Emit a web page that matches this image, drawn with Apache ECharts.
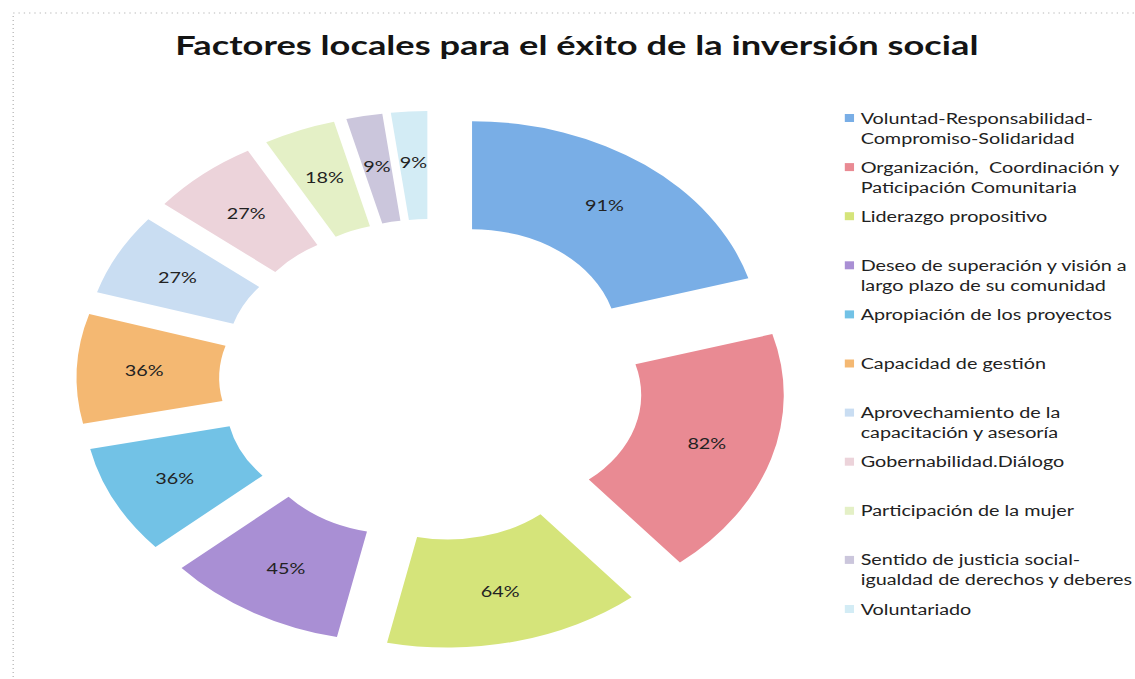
<!DOCTYPE html>
<html>
<head>
<meta charset="utf-8">
<script src="https://cdn.jsdelivr.net/npm/echarts@6/dist/echarts.min.js"></script>
<style>
html,body{margin:0;padding:0;width:1135px;height:679px;overflow:hidden;background:#ffffff;}
#chart{width:860px;height:679px;transform:scaleX(1.32);transform-origin:0 0;}
</style>
</head>
<body>
<div id="chart"></div>
<script>
const titleText = 'Factores locales para el éxito de la inversión social';
const categories = [
  'Voluntad-Responsabilidad-\nCompromiso-Solidaridad',
  'Organización,  Coordinación y\nPaticipación Comunitaria',
  'Liderazgo propositivo',
  'Deseo de superación y visión a\nlargo plazo de su comunidad',
  'Apropiación de los proyectos',
  'Capacidad de gestión',
  'Aprovechamiento de la\ncapacitación y asesoría',
  'Gobernabilidad.Diálogo',
  'Participación de la mujer',
  'Sentido de justicia social-\nigualdad de derechos y deberes',
  'Voluntariado'
];
const values = [91, 82, 64, 45, 36, 36, 27, 27, 18, 9, 9];
const colors = ['#79aee6', '#e98a93', '#d5e47a', '#a98fd4', '#72c2e6', '#f4b872',
                '#c9ddf2', '#ecd3da', '#e4f0c6', '#cbc6dc', '#d3ecf5'];

const chart = echarts.init(document.getElementById('chart'), null, {renderer: 'svg'});
chart.setOption({
  backgroundColor: '#ffffff',
  animation: false,
  title: {
    text: titleText,
    left: 432,
    top: 25,
    textAlign: 'center',
    textStyle: {fontFamily: 'Lato', fontWeight: 'bold', fontSize: 27.5, color: '#141414'}
  },
  graphic: [{
    type: 'rect',
    shape: {x: 10, y: 13, width: 900, height: 720},
    style: {fill: 'none', stroke: '#b8b8b8', lineWidth: 1, lineDash: [1, 3]},
    silent: true, z: -1
  }],
  legend: {
    orient: 'vertical',
    left: 635,
    top: 83,
    icon: 'rect',
    itemWidth: 7,
    itemHeight: 8,
    itemGap: -10.9,
    selectedMode: false,
    textStyle: {fontFamily: 'Lato', fontSize: 15, lineHeight: 20, color: '#222222'},
    formatter: function (name) {
      const p = name.split('\n');
      return ' \n' + p[0] + '\n' + (p[1] || ' ');
    },
    data: categories
  },
  series: [{
    type: 'pie',
    center: [327, 380],
    radius: [110, 218],
    startAngle: 90,
    clockwise: true,
    selectedMode: 'multiple',
    selectedOffset: 51,
    avoidLabelOverlap: false,
    label: {show: true, position: 'inside', formatter: '{c}%', fontFamily: 'Lato', fontSize: 15, color: '#222222'},
    labelLine: {show: false},
    itemStyle: {borderWidth: 0},
    emphasis: {disabled: true},
    data: categories.map(function (n, i) {
      return {name: n, value: values[i], selected: true, itemStyle: {color: colors[i]}};
    })
  }]
});
</script>
</body>
</html>
